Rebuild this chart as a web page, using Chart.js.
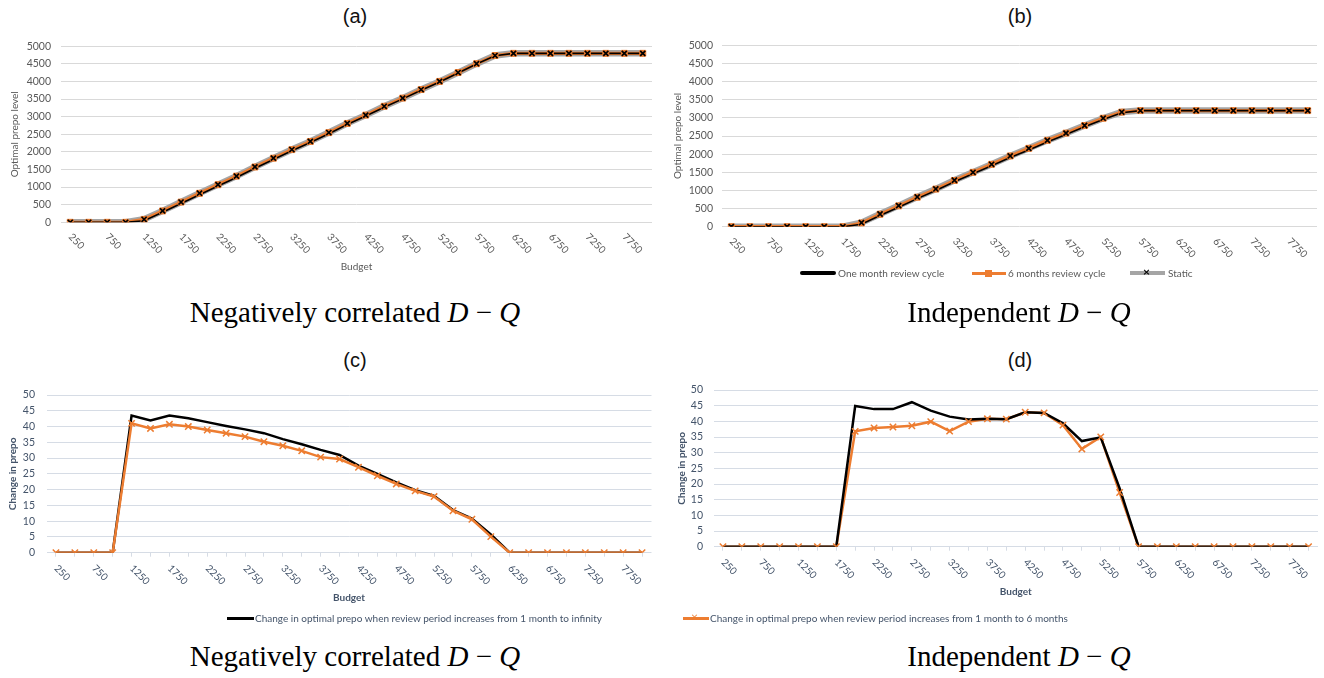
<!DOCTYPE html>
<html>
<head>
<meta charset="utf-8">
<script src="https://cdn.jsdelivr.net/npm/chart.js@4.4.0/dist/chart.umd.min.js"></script>
<style>
  body { margin: 0; width: 1324px; height: 678px; background: #fff; position: relative; overflow: hidden; font-family: Lato, sans-serif; }
  canvas { position: absolute; }
  .ptitle { position: absolute; width: 200px; text-align: center; font: 20px "Liberation Sans", Arial, sans-serif; color: #111; }
  .cap { position: absolute; width: 500px; text-align: center; font: 29px "Liberation Serif", "Times New Roman", serif; color: #000; }
  .lg { position: absolute; font-size: 10px; line-height: 14px; white-space: nowrap; }
  .ln { position: absolute; }
</style>
</head>
<body>

<div class="ptitle" style="left:255px; top:5px;">(a)</div>
<div class="ptitle" style="left:920px; top:5px;">(b)</div>
<div class="ptitle" style="left:255px; top:349px;">(c)</div>
<div class="ptitle" style="left:920px; top:349px;">(d)</div>

<canvas id="chartA" width="660" height="250" style="left:0; top:30px;"></canvas>
<canvas id="chartB" width="664" height="250" style="left:660px; top:30px;"></canvas>
<canvas id="chartC" width="660" height="240" style="left:0; top:375px;"></canvas>
<canvas id="chartD" width="664" height="240" style="left:660px; top:370px;"></canvas>

<!-- legend of (a)/(b) -->
<div class="ln" style="left:800px; top:271px; width:36px; height:4px; background:#000; border-radius:2px;"></div>
<div class="lg" style="left:838px; top:266px; color:#595959;">One month review cycle</div>
<div class="ln" style="left:972px; top:272px; width:34px; height:3px; background:#ED7D31;"></div>
<div class="ln" style="left:985px; top:270px; width:7px; height:7px; background:#ED7D31;"></div>
<div class="lg" style="left:1008px; top:266px; color:#595959;">6 months review cycle</div>
<div class="ln" style="left:1130px; top:271px; width:35px; height:4px; background:#A5A5A5;"></div>
<div class="lg" style="left:1143px; top:265px; color:#000; font-size:12px; font-weight:bold;">×</div>
<div class="lg" style="left:1168px; top:266px; color:#595959;">Static</div>

<!-- legend of (c)/(d) -->
<div class="ln" style="left:227px; top:617px; width:27px; height:3px; background:#000;"></div>
<div class="lg" style="left:255px; top:611px; color:#44546A;">Change in optimal prepo when review period increases from 1 month to infinity</div>
<div class="ln" style="left:683px; top:617px; width:26px; height:3px; background:#ED7D31;"></div>
<div class="lg" style="left:691px; top:610px; color:#ED7D31; font-size:12px;">×</div>
<div class="lg" style="left:710px; top:611px; color:#44546A;">Change in optimal prepo when review period increases from 1 month to 6 months</div>

<div class="cap" style="left:105px; top:296px;">Negatively correlated <i>D</i> − <i>Q</i></div>
<div class="cap" style="left:769px; top:296px;">Independent <i>D</i> − <i>Q</i></div>
<div class="cap" style="left:105px; top:640px;">Negatively correlated <i>D</i> − <i>Q</i></div>
<div class="cap" style="left:769px; top:640px;">Independent <i>D</i> − <i>Q</i></div>

<script>
// budget categories (x axis)
const budget = [250, 500, 750, 1000, 1250, 1500, 1750, 2000, 2250, 2500, 2750, 3000, 3250, 3500, 3750, 4000,
                4250, 4500, 4750, 5000, 5250, 5500, 5750, 6000, 6250, 6500, 6750, 7000, 7250, 7500, 7750, 8000];

// (a) negatively correlated D-Q, optimal prepo level
const oneMonthA = [0, 0, 0, 0, 42, 283, 533, 784, 1029, 1273, 1534, 1786, 2031, 2265, 2517, 2779,
                   3018, 3271, 3506, 3751, 3985, 4241, 4495, 4733, 4800, 4800, 4800, 4800, 4800, 4800, 4800, 4800];
const sixMonthsA = [0, 0, 0, 0, 83, 323, 574, 824, 1068, 1311, 1571, 1822, 2065, 2297, 2547, 2809,
                    3045, 3296, 3528, 3771, 4003, 4254, 4506, 4738, 4800, 4800, 4800, 4800, 4800, 4800, 4800, 4800];
const staticA = [0, 0, 0, 0, 85, 325, 576, 827, 1070, 1313, 1573, 1824, 2067, 2299, 2550, 2810,
                 3045, 3296, 3528, 3771, 4003, 4254, 4506, 4738, 4800, 4800, 4800, 4800, 4800, 4800, 4800, 4800];

// (b) independent D-Q, optimal prepo level
const oneMonthB = [0, 0, 0, 0, 0, 0, 0, 65, 306, 536, 774, 996, 1238, 1459, 1679, 1909,
                   2117, 2337, 2540, 2756, 2955, 3141, 3200, 3200, 3200, 3200, 3200, 3200, 3200, 3200, 3200, 3200];
const sixMonthsB = [0, 0, 0, 0, 0, 0, 0, 102, 344, 574, 813, 1036, 1275, 1499, 1720, 1950,
                    2160, 2380, 2579, 2787, 2990, 3158, 3200, 3200, 3200, 3200, 3200, 3200, 3200, 3200, 3200, 3200];
const staticB = [0, 0, 0, 0, 0, 0, 0, 110, 350, 580, 820, 1040, 1280, 1500, 1720, 1950,
                 2160, 2380, 2580, 2790, 2990, 3160, 3200, 3200, 3200, 3200, 3200, 3200, 3200, 3200, 3200, 3200];

// (c) change in prepo, negatively correlated
const toInfinityC = [0, 0, 0, 0, 43.5, 41.9, 43.5, 42.6, 41.4, 40.2, 39.1, 37.9, 36, 34.4, 32.6, 31,
                     27.6, 25, 22.3, 19.8, 18, 13.5, 10.8, 5.8, 0, 0, 0, 0, 0, 0, 0, 0];
const toSixC = [0, 0, 0, 0, 41, 39.4, 40.7, 40, 38.9, 37.9, 36.8, 35.2, 33.9, 32.3, 30.3, 29.7,
                27.1, 24.4, 21.8, 19.6, 17.8, 13.3, 10.6, 5.1, 0, 0, 0, 0, 0, 0, 0, 0];

// (d) change in prepo, independent
const toInfinityD = [0, 0, 0, 0, 0, 0, 0, 44.9, 43.9, 43.9, 46.1, 43.4, 41.5, 40.6, 40.8, 40.7,
                     42.9, 42.7, 39.4, 33.7, 34.9, 18.6, 0, 0, 0, 0, 0, 0, 0, 0, 0, 0];
const toSixD = [0, 0, 0, 0, 0, 0, 0, 36.8, 37.9, 38.2, 38.6, 39.9, 36.9, 39.9, 40.8, 40.7,
                42.9, 42.7, 38.8, 31.2, 35, 17.3, 0, 0, 0, 0, 0, 0, 0, 0, 0, 0];

const ORANGE = '#ED7D31';
const GREY = '#A5A5A5';

Chart.defaults.font.family = 'Lato';

// x labels rotated down-right like the spreadsheet, every other category
const rotLabels = {
    id: 'rotLabels',
    afterDraw(chart, args, opts) {
        const sc = chart.scales.x;
        const ctx = chart.ctx;
        ctx.save();
        ctx.font = '10px Lato';
        ctx.fillStyle = opts.color;
        ctx.textAlign = 'left';
        ctx.textBaseline = 'middle';
        budget.forEach(function (b, i) {
            if (i % 2) return;
            ctx.save();
            ctx.translate(sc.getPixelForValue(i), sc.top + opts.gap);
            ctx.rotate(Math.PI / 4);
            ctx.fillText(String(b), 0, 0);
            ctx.restore();
        });
        ctx.restore();
    }
};

function makeChart(id, datasets, p) {
    return new Chart(document.getElementById(id), {
        type: 'line',
        data: { labels: budget, datasets: datasets },
        options: {
            animation: false,
            responsive: false,
            layout: { padding: { left: p.padL, right: p.padR, top: p.padT, bottom: p.padB } },
            elements: { line: { tension: 0 } },
            plugins: {
                legend: { display: false },
                tooltip: { enabled: false },
                rotLabels: { color: p.text, gap: p.gap }
            },
            scales: {
                x: {
                    offset: true,
                    ticks: { display: false },
                    grid: p.xTicks
                        ? { drawOnChartArea: false, drawTicks: true, tickLength: 4, color: p.grid }
                        : { display: false },
                    border: { display: false },
                    title: {
                        display: p.xTitle,
                        text: 'Budget',
                        color: p.text,
                        font: { size: 10, weight: p.bold ? 'bold' : 'normal' }
                    },
                    afterFit: function (s) { s.height = p.xH; }
                },
                y: {
                    min: 0,
                    max: p.max,
                    ticks: {
                        stepSize: p.step, autoSkip: false, padding: p.tickPad, color: p.text,
                        font: { size: p.tickSize },
                        callback: function (v) { return String(v); }
                    },
                    grid: { color: p.grid, drawTicks: false, lineWidth: 1 },
                    border: { display: false },
                    title: {
                        display: true,
                        text: p.yText,
                        color: p.text,
                        font: { size: 10, weight: p.bold ? 'bold' : 'normal' }
                    },
                    afterFit: function (s) { s.width = p.yW; }
                }
            }
        },
        plugins: [rotLabels]
    });
}

function levelSets(oneMonth, sixMonths, stat) {
    return [
        { label: 'Static marks', data: stat, showLine: false, pointStyle: 'crossRot', pointRadius: 3.6,
          pointBorderColor: '#000', pointBorderWidth: 1.7, order: 1 },
        { label: '6 months marks', data: sixMonths, showLine: false, pointStyle: 'rect', pointRadius: 4.2,
          pointBackgroundColor: ORANGE, pointBorderColor: ORANGE, order: 2 },
        { label: 'One month review cycle', data: oneMonth, borderColor: '#000', borderWidth: 1.6,
          pointRadius: 0, order: 3 },
        { label: '6 months review cycle', data: sixMonths, borderColor: ORANGE, borderWidth: 3.2,
          pointRadius: 0, order: 4 },
        { label: 'Static', data: stat, borderColor: GREY, borderWidth: 6.5, pointRadius: 0, order: 5 }
    ];
}

makeChart('chartA', levelSets(oneMonthA, sixMonthsA, staticA), {
    padL: 5, padR: 8, padT: 13.5, padB: 3, yW: 56, xH: 54.7, tickPad: 10, tickSize: 10.5,
    max: 5000, step: 500, text: '#595959', grid: '#D9D9D9', bold: false,
    yText: 'Optimal prepo level', xTitle: true, xTicks: false, gap: 13
});

makeChart('chartB', levelSets(oneMonthB, sixMonthsB, staticB), {
    padL: 8, padR: 7, padT: 15, padB: 3, yW: 54, xH: 50.3, tickPad: 9, tickSize: 10.5,
    max: 5000, step: 500, text: '#595959', grid: '#D9D9D9', bold: false,
    yText: 'Optimal prepo level', xTitle: false, xTicks: false, gap: 13
});

makeChart('chartC', [
    { label: 'Change in optimal prepo when review period increases from 1 month to 6 months', data: toSixC,
      borderColor: ORANGE, borderWidth: 2.5, pointStyle: 'crossRot', pointRadius: 4.5,
      pointBorderColor: ORANGE, pointBorderWidth: 1.5, order: 1 },
    { label: 'Change in optimal prepo when review period increases from 1 month to infinity', data: toInfinityC,
      borderColor: '#000', borderWidth: 2.5, pointRadius: 0, order: 2 }
], {
    padL: 3, padR: 8.5, padT: 20, padB: 7, yW: 43.5, xH: 55.3, tickPad: 11.5, tickSize: 10.5,
    max: 50, step: 5, text: '#44546A', grid: '#D6DCE5', bold: true,
    yText: 'Change in prepo', xTitle: true, xTicks: true, gap: 14
});

makeChart('chartD', [
    { label: 'marks', data: toSixD, showLine: false, pointStyle: 'crossRot', pointRadius: 4.5,
      pointBorderColor: ORANGE, pointBorderWidth: 1.5, order: 1 },
    { label: 'Change in optimal prepo when review period increases from 1 month to infinity', data: toInfinityD,
      borderColor: '#000', borderWidth: 2.5, pointRadius: 0, order: 2 },
    { label: 'Change in optimal prepo when review period increases from 1 month to 6 months', data: toSixD,
      borderColor: ORANGE, borderWidth: 2.5, pointRadius: 0, order: 3 }
], {
    padL: 12, padR: 4.5, padT: 20, padB: 8, yW: 41.5, xH: 55.3, tickPad: 10.5, tickSize: 10.5,
    max: 50, step: 5, text: '#44546A', grid: '#D6DCE5', bold: true,
    yText: 'Change in prepo', xTitle: true, xTicks: true, gap: 14
});
</script>
</body>
</html>
